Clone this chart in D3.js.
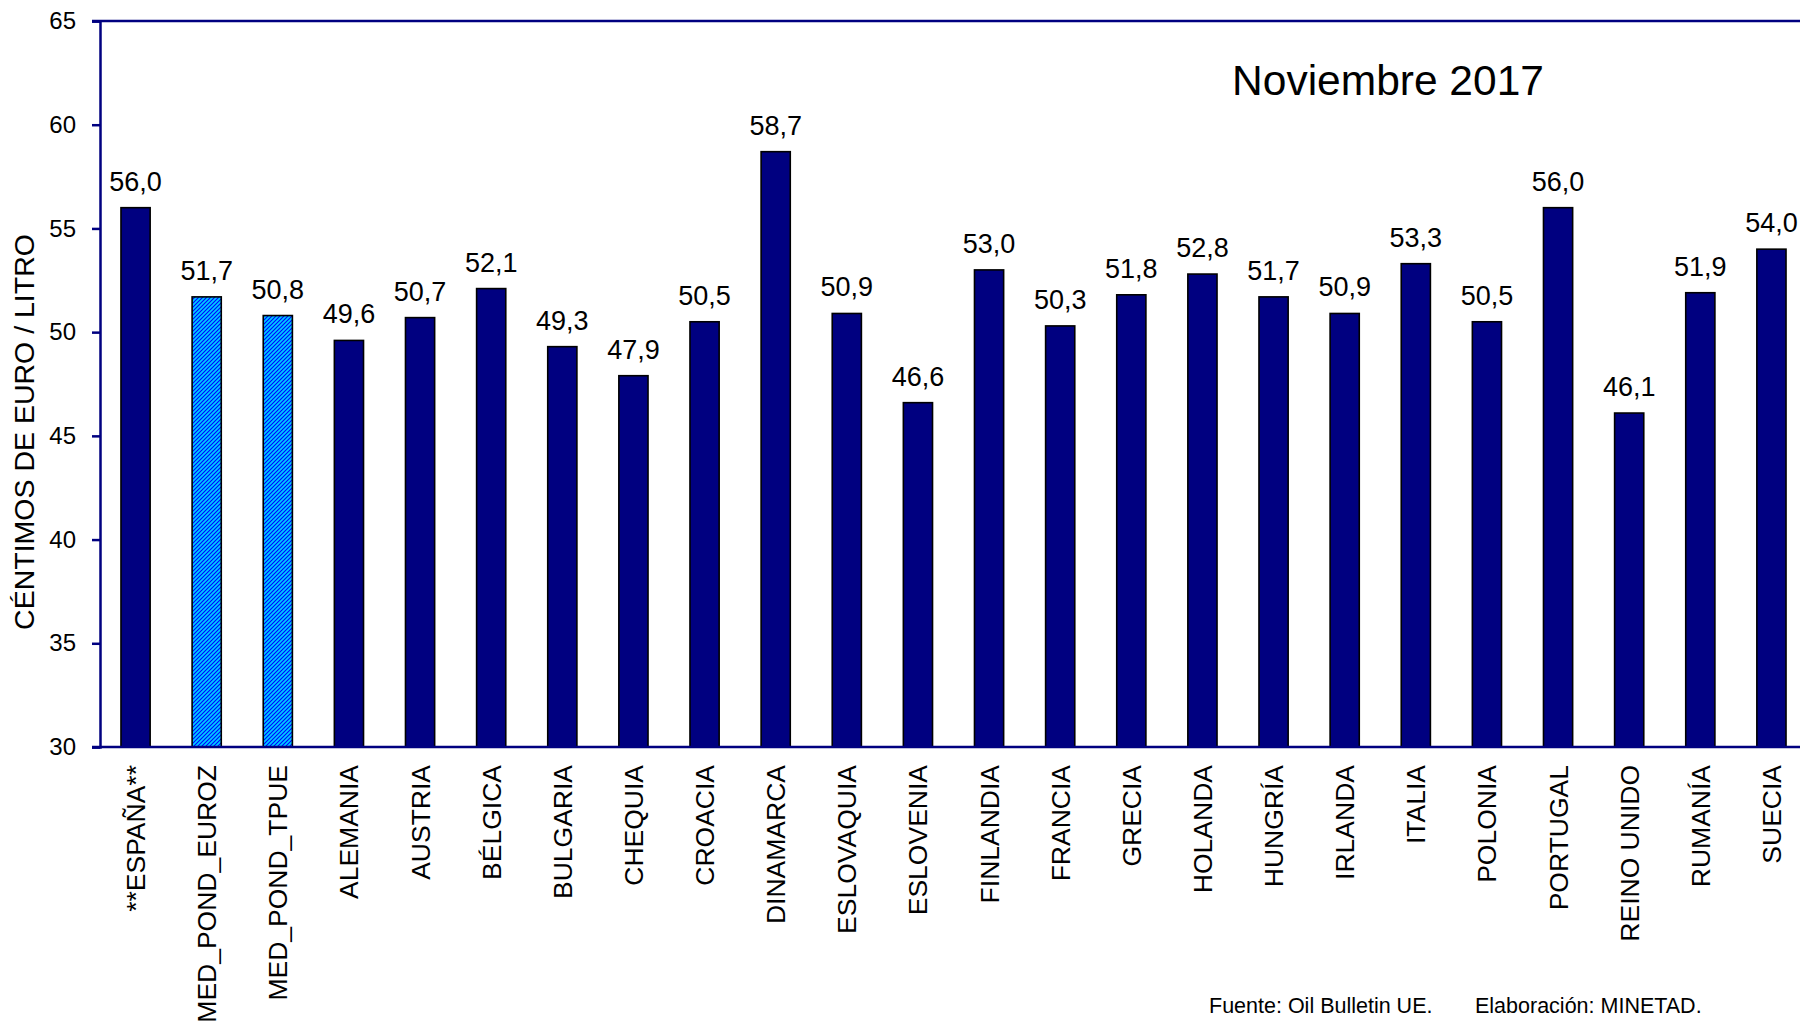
<!DOCTYPE html>
<html>
<head>
<meta charset="utf-8">
<script src="https://cdn.jsdelivr.net/npm/d3@7"></script>
<style>
  html, body { margin: 0; padding: 0; background: #fff; }
  svg { display: block; font-family: "Liberation Sans", Arial, sans-serif; }
</style>
</head>
<body>
<svg id="chart" width="1800" height="1024"></svg>
<script>
const categories = ["**ESPAÑA**", "MED_POND_EUROZ", "MED_POND_TPUE", "ALEMANIA", "AUSTRIA", "BÉLGICA",
  "BULGARIA", "CHEQUIA", "CROACIA", "DINAMARCA", "ESLOVAQUIA", "ESLOVENIA", "FINLANDIA", "FRANCIA",
  "GRECIA", "HOLANDA", "HUNGRÍA", "IRLANDA", "ITALIA", "POLONIA", "PORTUGAL", "REINO UNIDO", "RUMANÍA", "SUECIA"];
const values = [56.0, 51.7, 50.8, 49.6, 50.7, 52.1, 49.3, 47.9, 50.5, 58.7, 50.9, 46.6, 53.0, 50.3,
  51.8, 52.8, 51.7, 50.9, 53.3, 50.5, 56.0, 46.1, 51.9, 54.0];
const averageCategories = ["MED_POND_EUROZ", "MED_POND_TPUE"];
const yTicks = [30, 35, 40, 45, 50, 55, 60, 65];
const yDomain = [30, 65];
const title = "Noviembre 2017";
const yLabel = "CÉNTIMOS DE EURO / LITRO";
const source = "Fuente: Oil Bulletin UE.";
const credit = "Elaboración: MINETAD.";

(function () {
const svg = d3.select("#chart");
const mLeft = 100, mRight = 1807, mTop = 21, mBottom = 747;

const defs = svg.append("defs");
const pat = defs.append("pattern").attr("id", "hatch").attr("patternUnits", "userSpaceOnUse")
  .attr("width", 4).attr("height", 4);
pat.append("rect").attr("width", 4).attr("height", 4).attr("fill", "#00CCFF");
pat.append("path").attr("d", "M-1,1 l2,-2 M0,4 l4,-4 M3,5 l2,-2")
  .attr("stroke", "#0000FF").attr("stroke-width", 1.1);

const x = d3.scaleBand().domain(categories).range([mLeft, mRight]).paddingInner(0.59).paddingOuter(0.295);
const y = d3.scaleLinear().domain(yDomain).range([mBottom, mTop]);

// frame top line
svg.append("line").attr("x1", mLeft - 8).attr("x2", 1800).attr("y1", mTop).attr("y2", mTop)
  .attr("stroke", "#000080").attr("stroke-width", 2.5);

// bars
const data = categories.map((c, i) => ({ c, v: values[i] }));
svg.append("g").selectAll("rect").data(data).join("rect")
  .attr("x", d => x(d.c))
  .attr("width", x.bandwidth())
  .attr("y", d => y(d.v))
  .attr("height", d => y(yDomain[0]) - y(d.v))
  .attr("fill", d => averageCategories.includes(d.c) ? "url(#hatch)" : "#000080")
  .attr("stroke", "#000")
  .attr("stroke-width", 1.6);

// value labels
svg.append("g").selectAll("text").data(data).join("text")
  .attr("x", d => x(d.c) + x.bandwidth() / 2)
  .attr("y", d => y(d.v) - 17)
  .attr("text-anchor", "middle")
  .attr("font-size", 27)
  .attr("fill", "#000")
  .text(d => d.v.toFixed(1).replace(".", ","));

// y axis
const yAxis = svg.append("g").attr("transform", `translate(${mLeft},0)`)
  .call(d3.axisLeft(y).tickValues(yTicks).tickSize(8).tickPadding(16).tickFormat(d3.format("d")));
yAxis.select(".domain").attr("stroke", "#000080").attr("stroke-width", 2.5);
yAxis.selectAll(".tick line").attr("stroke", "#000080").attr("stroke-width", 2.5);
yAxis.selectAll(".tick text").attr("font-size", 24).attr("fill", "#000")
  .attr("font-family", "Liberation Sans, Arial, sans-serif");

// x axis
const xAxis = svg.append("g").attr("transform", `translate(0,${mBottom})`)
  .call(d3.axisBottom(x).tickSize(0).tickPadding(0));
xAxis.select(".domain").remove();
svg.append("line").attr("x1", mLeft - 8).attr("x2", 1800).attr("y1", mBottom).attr("y2", mBottom)
  .attr("stroke", "#000080").attr("stroke-width", 2.5);
xAxis.selectAll(".tick text")
  .attr("transform", "rotate(-90)")
  .attr("x", -18).attr("y", 0).attr("dy", "0.36em")
  .attr("text-anchor", "end")
  .attr("font-size", 26.5).attr("fill", "#000")
  .attr("font-family", "Liberation Sans, Arial, sans-serif");

// y label
svg.append("text").attr("transform", `translate(34,432) rotate(-90)`)
  .attr("text-anchor", "middle").attr("font-size", 28.5).attr("fill", "#000").text(yLabel);

// title
svg.append("text").attr("x", 1388).attr("y", 95).attr("text-anchor", "middle")
  .attr("font-size", 42.5).attr("fill", "#000").text(title);

// footer
svg.append("text").attr("x", 1209).attr("y", 1013).attr("font-size", 21.5)
  .attr("fill", "#000").text(source);
svg.append("text").attr("x", 1475).attr("y", 1013).attr("font-size", 21.5)
  .attr("fill", "#000").text(credit);
})();
</script>
</body>
</html>
